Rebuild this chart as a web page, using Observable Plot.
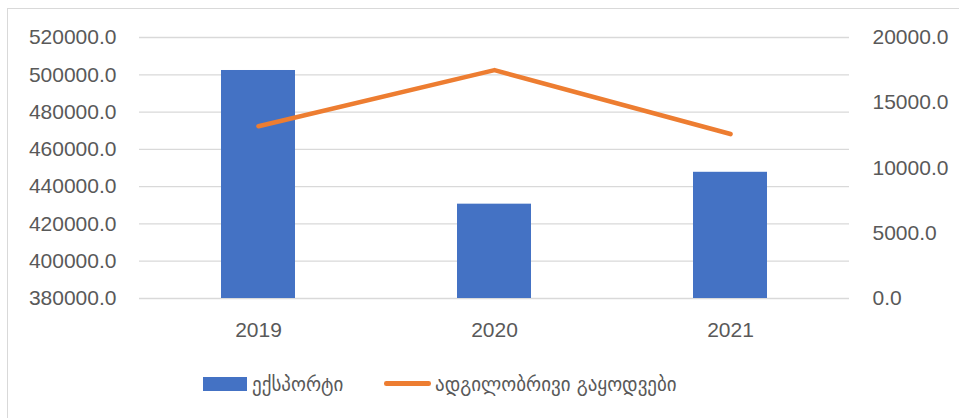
<!DOCTYPE html>
<html>
<head>
<meta charset="utf-8">
<script src="https://cdn.jsdelivr.net/npm/d3@7"></script>
<script src="https://cdn.jsdelivr.net/npm/@observablehq/plot@0.6"></script>
<style>
  body { margin: 0; background: #fff; }
  #wrap { position: relative; width: 959px; height: 418px; overflow: hidden; background: #fff; }
  #frame { position: absolute; left: 7px; top: 8px; width: 1200px; height: 600px; border-left: 1.3px solid #D9D9D9; border-top: 1.3px solid #D9D9D9; }
  #chart { position: absolute; left: 0; top: 0; }
  .leg { position: absolute; font-family: "DejaVu Sans", sans-serif; font-size: 19px; color: #595959; white-space: nowrap; line-height: 1; }
</style>
</head>
<body>
<div id="wrap">
  <div id="frame"></div>
  <div id="chart"></div>
  <div id="legend"></div>
</div>
<script>
// ---- data ----
const years = ["2019", "2020", "2021"];
const exportValues = [502300, 430600, 447700];        // left axis (bars)
const localSales = [13200, 17500, 12600];             // right axis (line)
const leftTicks = [380000, 400000, 420000, 440000, 460000, 480000, 500000, 520000];
const rightTicks = [0, 5000, 10000, 15000, 20000];
const seriesNames = ["ექსპორტი", "ადგილობრივი გაყოდვები"];

// ---- dual-axis mapping (right scale mapped onto left scale) ----
const leftMin = 380000, leftMax = 520000, rightMin = 0, rightMax = 20000;
const toLeft = v => leftMin + (v - rightMin) * (leftMax - leftMin) / (rightMax - rightMin);
const fromLeft = v => rightMin + (v - leftMin) * (rightMax - rightMin) / (leftMax - leftMin);

const bars = years.map((y, i) => ({year: y, value: exportValues[i]}));
const line = years.map((y, i) => ({year: y, value: toLeft(localSales[i])}));

const font = "'Liberation Sans', Arial, sans-serif";
const plot = Plot.plot({
  width: 959,
  height: 360,
  marginLeft: 139,
  marginRight: 110,
  marginTop: 37,
  marginBottom: 62,
  style: { fontFamily: font, fontSize: "21px", color: "#595959", background: "transparent" },
  x: { type: "band", domain: years, paddingInner: 0.686, paddingOuter: 0.343, label: null },
  y: { domain: [leftMin, leftMax], label: null },
  marks: [
    Plot.gridY(leftTicks, { stroke: "#D9D9D9", strokeOpacity: 1, strokeWidth: 1.3 }),
    Plot.rectY(bars, { x: "year", y1: leftMin, y2: "value", fill: "#4472C4" }),
    Plot.lineY(line, { x: "year", y: "value", stroke: "#ED7D31", strokeWidth: 4.6, strokeLinecap: "round", strokeLinejoin: "round" }),
    Plot.axisY({ ticks: leftTicks, tickSize: 0, tickPadding: 23, tickFormat: d => d.toFixed(1), label: null, fill: "#595959" }),
    Plot.axisY({ anchor: "right", ticks: rightTicks.map(toLeft), tickSize: 0, tickPadding: 23, tickFormat: d => Math.round(fromLeft(d)).toFixed(1), label: null, fill: "#595959" }),
    Plot.axisX({ tickSize: 0, tickPadding: 24, label: null, fill: "#595959" })
  ]
});
document.getElementById("chart").appendChild(plot);

// ---- legend ----
const legend = document.getElementById("legend");
legend.innerHTML = `
  <div style="position:absolute;left:203px;top:377px;width:44px;height:14px;background:#4472C4"></div>
  <div class="leg" style="left:252px;top:375px">${seriesNames[0]}</div>
  <div style="position:absolute;left:384px;top:381px;width:47px;height:4.6px;border-radius:2.3px;background:#ED7D31"></div>
  <div class="leg" style="left:435px;top:375px">${seriesNames[1]}</div>
`;
</script>
</body>
</html>
